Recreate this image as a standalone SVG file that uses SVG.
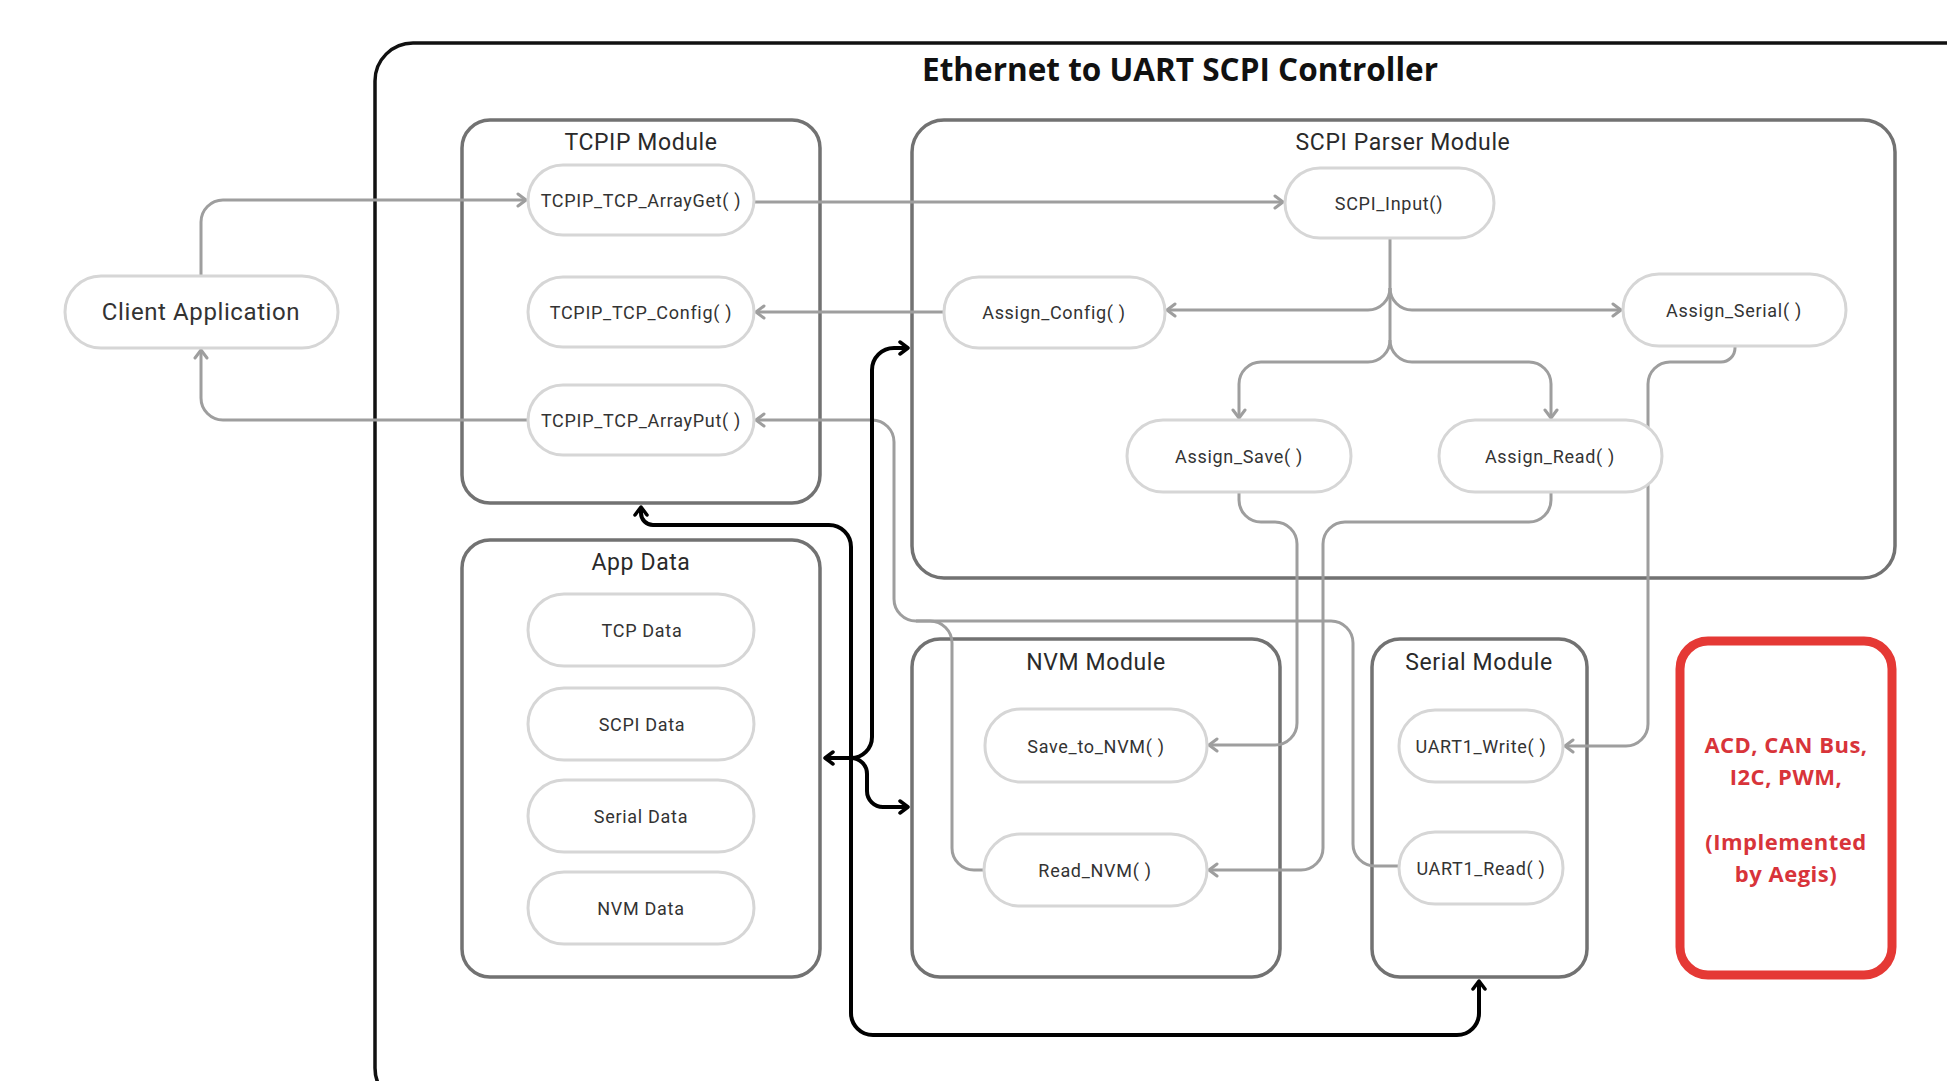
<svg xmlns="http://www.w3.org/2000/svg" width="1947" height="1081" viewBox="0 0 1947 1081">
  <style>
    .frame { fill: none; stroke: #111; stroke-width: 3.5; }
    .module { fill: #fff; stroke: #727272; stroke-width: 3.5; }
    .pill { fill: #fff; stroke: #d6d6d6; stroke-width: 3; }
    .wire { fill: none; stroke: #9e9e9e; stroke-width: 3; }
    .bus { fill: none; stroke: #000; stroke-width: 4; }
    .title { font-family: "Open Sans", "Liberation Sans", sans-serif; font-weight: 700; font-size: 31.5px; fill: #111; text-anchor: middle; }
    .mtitle { font-family: Roboto, "Liberation Sans", sans-serif; font-size: 23px; letter-spacing: 0.6px; fill: #2a2a2a; text-anchor: middle; }
    .label { font-family: Roboto, "Liberation Sans", sans-serif; font-size: 18px; letter-spacing: 0.7px; fill: #333; text-anchor: middle; dominant-baseline: central; }
    .client { font-family: Roboto, "Liberation Sans", sans-serif; font-size: 24px; letter-spacing: 0.6px; fill: #333; text-anchor: middle; dominant-baseline: central; }
    .note { font-family: "Open Sans", "Liberation Sans", sans-serif; font-weight: 700; font-size: 22px; letter-spacing: 0.5px; fill: #d8343a; text-anchor: middle; }
  </style>
  <defs>
    <marker id="arrow-gray" viewBox="0 0 12 16" refX="10" refY="8" markerWidth="12" markerHeight="16" markerUnits="userSpaceOnUse" orient="auto">
      <path d="M2,2 L10,8 L2,14" fill="none" stroke="#9e9e9e" stroke-width="3" stroke-linecap="round" stroke-linejoin="round"/>
    </marker>
    <marker id="arrow-black" viewBox="0 0 12 16" refX="10" refY="8" markerWidth="12" markerHeight="16" markerUnits="userSpaceOnUse" orient="auto">
      <path d="M2,2 L10,8 L2,14" fill="none" stroke="#000" stroke-width="3.5" stroke-linecap="round" stroke-linejoin="round"/>
    </marker>
  </defs>

  <rect width="1947" height="1081" fill="#fff"/>

  <!-- Controller boundary -->
  <g id="controller">
    <rect class="frame" x="375" y="43" width="1650" height="1063" rx="38"/>
    <text class="title" x="1180" y="81">Ethernet to UART SCPI Controller</text>
  </g>

  <!-- Module containers -->
  <g id="tcpip-module">
    <rect class="module" x="462" y="120" width="358" height="383" rx="28"/>
    <text class="mtitle" x="641" y="150">TCPIP Module</text>
  </g>
  <g id="scpi-parser-module">
    <rect class="module" x="912" y="120" width="983" height="458" rx="32"/>
    <text class="mtitle" x="1403" y="150">SCPI Parser Module</text>
  </g>
  <g id="app-data">
    <rect class="module" x="462" y="540" width="358" height="437" rx="28"/>
    <text class="mtitle" x="641" y="570">App Data</text>
  </g>
  <g id="nvm-module">
    <rect class="module" x="912" y="639" width="368" height="338" rx="28"/>
    <text class="mtitle" x="1096" y="670">NVM Module</text>
  </g>
  <g id="serial-module">
    <rect class="module" x="1372" y="639" width="215" height="338" rx="28"/>
    <text class="mtitle" x="1479" y="670">Serial Module</text>
  </g>
  <g id="aegis-peripherals">
    <rect x="1680" y="641" width="212" height="334" rx="28" fill="#fff" stroke="#e53935" stroke-width="9"/>
    <text class="note" x="1786" y="753">ACD, CAN Bus,</text>
    <text class="note" x="1786" y="785">I2C, PWM,</text>
    <text class="note" x="1786" y="850">(Implemented</text>
    <text class="note" x="1786" y="882">by Aegis)</text>
  </g>

  <!-- Connectors -->
  <g id="connectors">
    <!-- request path -->
    <path class="wire" d="M201,276 V222 A22,22 0 0 1 223,200 H526" marker-end="url(#arrow-gray)"/>
    <path class="wire" d="M754,202 H1283" marker-end="url(#arrow-gray)"/>
    <path class="wire" d="M944,312 H756" marker-end="url(#arrow-gray)"/>
    <path class="wire" d="M528,420 H223 A22,22 0 0 1 201,398 V350" marker-end="url(#arrow-gray)"/>
    <!-- SCPI_Input dispatch tree -->
    <path class="wire" d="M1390,238 V340"/>
    <path class="wire" d="M1390,288 A22,22 0 0 1 1368,310 H1167" marker-end="url(#arrow-gray)"/>
    <path class="wire" d="M1390,288 A22,22 0 0 0 1412,310 H1621" marker-end="url(#arrow-gray)"/>
    <path class="wire" d="M1390,340 A22,22 0 0 1 1368,362 H1261 A22,22 0 0 0 1239,384 V418" marker-end="url(#arrow-gray)"/>
    <path class="wire" d="M1390,340 A22,22 0 0 0 1412,362 H1529 A22,22 0 0 1 1551,384 V418" marker-end="url(#arrow-gray)"/>
    <!-- assign handlers to NVM / UART -->
    <path class="wire" d="M1239,492 V500 A22,22 0 0 0 1261,522 H1275 A22,22 0 0 1 1297,544 V723 A22,22 0 0 1 1275,745 H1209" marker-end="url(#arrow-gray)"/>
    <path class="wire" d="M1551,492 V500 A22,22 0 0 1 1529,522 H1345 A22,22 0 0 0 1323,544 V848 A22,22 0 0 1 1301,870 H1209" marker-end="url(#arrow-gray)"/>
    <path class="wire" d="M1735,346 V348 A14,14 0 0 1 1721,362 H1670 A22,22 0 0 0 1648,384 V724 A22,22 0 0 1 1626,746 H1565" marker-end="url(#arrow-gray)"/>
    <!-- responses back to ArrayPut -->
    <path class="wire" d="M1399,866 H1375 A22,22 0 0 1 1353,844 V643 A22,22 0 0 0 1331,621 H916 A22,22 0 0 1 894,599 V442 A22,22 0 0 0 872,420 H756" marker-end="url(#arrow-gray)"/>
    <path class="wire" d="M984,870 H974 A22,22 0 0 1 952,848 V643 A22,22 0 0 0 930,621 H916"/>
    <!-- shared data bus -->
    <path class="bus" d="M851,758 H825" marker-end="url(#arrow-black)"/>
    <path class="bus" d="M851,758 A21,21 0 0 0 872,737 V370 A22,22 0 0 1 894,348 H908" marker-end="url(#arrow-black)"/>
    <path class="bus" d="M851,758 A16,16 0 0 1 867,774 V791 A16,16 0 0 0 883,807 H908" marker-end="url(#arrow-black)"/>
    <path class="bus" d="M851,758 V547 A22,22 0 0 0 829,525 H653 A12,12 0 0 1 641,513 V507" marker-end="url(#arrow-black)"/>
    <path class="bus" d="M851,758 V1013 A22,22 0 0 0 873,1035 H1457 A22,22 0 0 0 1479,1013 V981" marker-end="url(#arrow-black)"/>
  </g>

  <!-- Function nodes -->
  <g id="client-application">
    <rect class="pill" x="65" y="276" width="273" height="72" rx="36"/>
    <text class="client" x="201" y="312">Client Application</text>
  </g>
  <g id="tcpip-arrayget">
    <rect class="pill" x="528" y="165" width="226" height="70" rx="35"/>
    <text class="label" x="641" y="200">TCPIP_TCP_ArrayGet( )</text>
  </g>
  <g id="tcpip-config">
    <rect class="pill" x="528" y="277" width="226" height="70" rx="35"/>
    <text class="label" x="641" y="312">TCPIP_TCP_Config( )</text>
  </g>
  <g id="tcpip-arrayput">
    <rect class="pill" x="528" y="385" width="226" height="70" rx="35"/>
    <text class="label" x="641" y="420">TCPIP_TCP_ArrayPut( )</text>
  </g>
  <g id="scpi-input">
    <rect class="pill" x="1285" y="168" width="209" height="70" rx="35"/>
    <text class="label" x="1389" y="203">SCPI_Input()</text>
  </g>
  <g id="assign-config">
    <rect class="pill" x="944" y="277" width="221" height="71" rx="35"/>
    <text class="label" x="1054" y="312">Assign_Config( )</text>
  </g>
  <g id="assign-serial">
    <rect class="pill" x="1623" y="274" width="223" height="72" rx="36"/>
    <text class="label" x="1734" y="310">Assign_Serial( )</text>
  </g>
  <g id="assign-save">
    <rect class="pill" x="1127" y="420" width="224" height="72" rx="36"/>
    <text class="label" x="1239" y="456">Assign_Save( )</text>
  </g>
  <g id="assign-read">
    <rect class="pill" x="1439" y="420" width="223" height="72" rx="36"/>
    <text class="label" x="1550" y="456">Assign_Read( )</text>
  </g>
  <g id="tcp-data">
    <rect class="pill" x="528" y="594" width="226" height="72" rx="36"/>
    <text class="label" x="642" y="630">TCP Data</text>
  </g>
  <g id="scpi-data">
    <rect class="pill" x="528" y="688" width="226" height="72" rx="36"/>
    <text class="label" x="642" y="724">SCPI Data</text>
  </g>
  <g id="serial-data">
    <rect class="pill" x="528" y="780" width="226" height="72" rx="36"/>
    <text class="label" x="641" y="816">Serial Data</text>
  </g>
  <g id="nvm-data">
    <rect class="pill" x="528" y="872" width="226" height="72" rx="36"/>
    <text class="label" x="641" y="908">NVM Data</text>
  </g>
  <g id="save-to-nvm">
    <rect class="pill" x="985" y="709" width="222" height="73" rx="36"/>
    <text class="label" x="1096" y="746">Save_to_NVM( )</text>
  </g>
  <g id="read-nvm">
    <rect class="pill" x="984" y="834" width="223" height="72" rx="36"/>
    <text class="label" x="1095" y="870">Read_NVM( )</text>
  </g>
  <g id="uart1-write">
    <rect class="pill" x="1399" y="710" width="164" height="72" rx="36"/>
    <text class="label" x="1481" y="746">UART1_Write( )</text>
  </g>
  <g id="uart1-read">
    <rect class="pill" x="1399" y="832" width="164" height="72" rx="36"/>
    <text class="label" x="1481" y="868">UART1_Read( )</text>
  </g>
</svg>
